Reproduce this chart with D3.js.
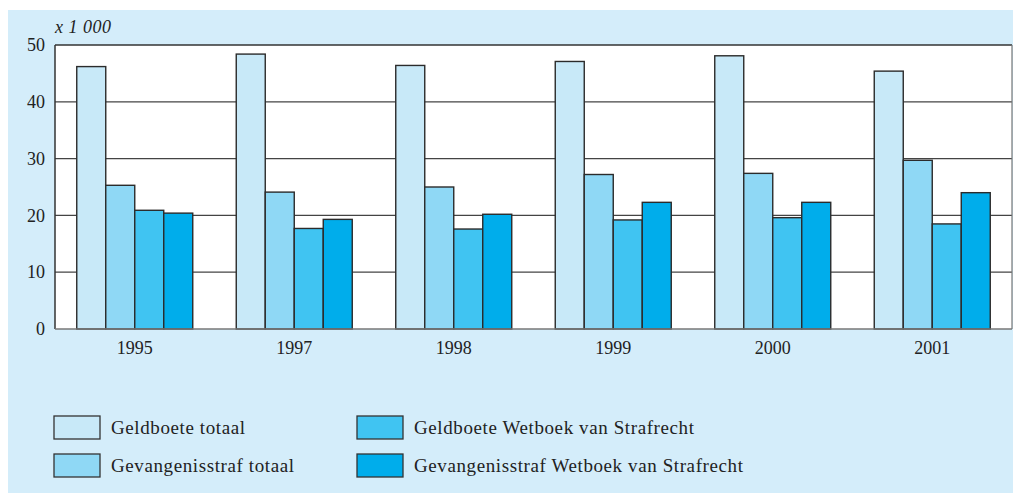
<!DOCTYPE html>
<html><head><meta charset="utf-8">
<script src="https://cdn.jsdelivr.net/npm/d3@7"></script>
<style>body{margin:0;background:#fff}svg{display:block}</style>
</head><body>
<svg id="c" width="1013" height="495"></svg>
<script>
const years = ["1995","1997","1998","1999","2000","2001"];
const seriesNames = ["Geldboete totaal","Gevangenisstraf totaal","Geldboete Wetboek van Strafrecht","Gevangenisstraf Wetboek van Strafrecht"];
const geldboeteTotaal = [46.2, 48.4, 46.4, 47.1, 48.1, 45.4];
const gevangenisstrafTotaal = [25.3, 24.1, 25.0, 27.2, 27.4, 29.7];
const geldboeteWvS = [20.9, 17.7, 17.6, 19.2, 19.6, 18.5];
const gevangenisstrafWvS = [20.4, 19.3, 20.2, 22.3, 22.3, 24.0];
const yTicks = [0,10,20,30,40,50];
const colors = ["#c8e9f8","#8fd8f5","#40c4f2","#00adeb"];

const seriesValues = [geldboeteTotaal, gevangenisstrafTotaal, geldboeteWvS, gevangenisstrafWvS];
const svg = d3.select("#c");
const font = "'Liberation Serif', serif";

svg.append("rect").attr("x",8).attr("y",10).attr("width",1005).attr("height",483).attr("fill","#d4edfa");

const L=55, R=1012, T=45, B=329;
const x = d3.scaleBand().domain(years).range([L,R]).paddingInner(0).paddingOuter(0);
const xs = d3.scaleBand().domain(d3.range(4)).range([0,116]);
const y = d3.scaleLinear().domain([0,50]).range([B,T]);

svg.append("rect").attr("x",L).attr("y",T).attr("width",R-L).attr("height",B-T).attr("fill","#fff");

// gridlines
svg.append("g").selectAll("line").data(yTicks.filter(d=>d>0&&d<50)).join("line")
  .attr("x1",L).attr("x2",R).attr("y1",d=>y(d)).attr("y2",d=>y(d))
  .attr("stroke","#444").attr("stroke-width",1.2);
// frame
svg.append("line").attr("x1",L).attr("x2",R).attr("y1",T).attr("y2",T).attr("stroke","#333").attr("stroke-width",1.5);
svg.append("line").attr("x1",R).attr("x2",R).attr("y1",T).attr("y2",B).attr("stroke","#777").attr("stroke-width",1.2);
svg.append("line").attr("x1",L).attr("x2",L).attr("y1",T).attr("y2",B).attr("stroke","#333").attr("stroke-width",1.5);

// bars
const groups = svg.append("g").selectAll("g").data(years).join("g")
  .attr("transform",d=>`translate(${x(d)+(x.bandwidth()-116)/2},0)`);
groups.selectAll("rect").data((d,i)=>seriesValues.map((s,k)=>({k,v:s[i]}))).join("rect")
  .attr("x",d=>xs(d.k)).attr("width",xs.bandwidth())
  .attr("y",d=>y(d.v)).attr("height",d=>B-y(d.v))
  .attr("fill",d=>colors[d.k]).attr("stroke","#2b2b2b").attr("stroke-width",1.4);

// bottom line
svg.append("line").attr("x1",L).attr("x2",R).attr("y1",B).attr("y2",B).attr("stroke","#777").attr("stroke-width",1.5);

// y axis labels
const yAxis = d3.axisLeft(y).tickValues(yTicks).tickSize(0).tickPadding(10);
const ga = svg.append("g").attr("transform",`translate(${L},0)`).call(yAxis);
ga.select(".domain").remove();
ga.selectAll("text").attr("font-family",font).attr("font-size",18).attr("fill","#222");

svg.append("text").attr("x",L).attr("y",33).attr("font-family",font).attr("font-style","italic")
  .attr("font-size",18).attr("letter-spacing",0.5).attr("fill","#222").text("x 1 000");

// x axis labels
const xAxis = d3.axisBottom(x).tickSize(0).tickPadding(12);
const gx = svg.append("g").attr("transform",`translate(0,${B})`).call(xAxis);
gx.select(".domain").remove();
gx.selectAll("text").attr("font-family",font).attr("font-size",18).attr("fill","#222");

// legend
const legPos = [[54,416],[54,454],[357,416],[357,454]];
const lg = svg.append("g").selectAll("g").data(seriesNames).join("g")
  .attr("transform",(d,i)=>`translate(${legPos[i][0]},${legPos[i][1]})`);
lg.append("rect").attr("width",46).attr("height",23).attr("fill",(d,i)=>colors[i])
  .attr("stroke","#333").attr("stroke-width",1.3);
lg.append("text").attr("x",57).attr("y",18).attr("font-family",font).attr("font-size",19)
  .attr("letter-spacing",0.6).attr("fill","#222").text(d=>d);
</script>
</body></html>
